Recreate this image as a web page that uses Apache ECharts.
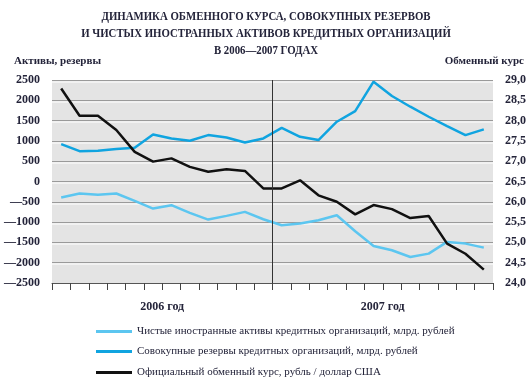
<!DOCTYPE html>
<html>
<head>
<meta charset="utf-8">
<script src="https://cdn.jsdelivr.net/npm/echarts@6/dist/echarts.min.js"></script>
<style>
html,body{margin:0;padding:0;background:#fff;}
#chart{width:530px;height:381px;}
</style>
</head>
<body>
<div id="chart"></div>
<script>
var months = ['01.2006','02.2006','03.2006','04.2006','05.2006','06.2006','07.2006','08.2006','09.2006','10.2006','11.2006','12.2006',
              '01.2007','02.2007','03.2007','04.2007','05.2007','06.2007','07.2007','08.2007','09.2007','10.2007','11.2007','12.2007'];
var years = ['2006 год', '2007 год'];
var netForeignAssets = [-395,-296,-329,-296,-477,-666,-584,-773,-938,-847,-748,-929,
                        -1077,-1036,-954,-831,-1225,-1587,-1694,-1859,-1776,-1488,-1530,-1628];
var totalReserves = [921,748,757,798,830,1160,1061,1003,1143,1085,962,1061,
                     1320,1102,1020,1472,1735,2459,2105,1842,1595,1365,1143,1283];
var exchangeRate = [28.79,28.12,28.12,27.77,27.23,26.99,27.07,26.86,26.74,26.80,26.76,26.33,
                    26.33,26.53,26.16,26.00,25.69,25.92,25.82,25.60,25.65,24.97,24.72,24.33];
var names = ['Чистые иностранные активы кредитных организаций, млрд. рублей',
             'Совокупные резервы кредитных организаций, млрд. рублей',
             'Официальный обменный курс, рубль / доллар США'];
var titleText = 'ДИНАМИКА ОБМЕННОГО КУРСА, СОВОКУПНЫХ РЕЗЕРВОВ\nИ ЧИСТЫХ ИНОСТРАННЫХ АКТИВОВ КРЕДИТНЫХ ОРГАНИЗАЦИЙ\nВ 2006—2007 ГОДАХ';
var yearDivider = 12;

var FONT = 'Liberation Serif';
var TXT = '#24243a';
var chart = echarts.init(document.getElementById('chart'), null, {renderer:'canvas'});
function legendAt(name, top){
  return {data:[name], left:91, top:top, icon:'rect', itemWidth:36, itemHeight:3,
          itemGap:10, selectedMode:false,
          textStyle:{fontFamily:FONT, fontSize:11, color:TXT}};
}
chart.setOption({
  animation:false,
  backgroundColor:'#ffffff',
  graphic:[
    {type:'text', x:266, y:8, scaleX:0.9, silent:true,
     style:{text:titleText, font:'bold 12px "Liberation Serif"', fill:TXT, textAlign:'center', lineHeight:17}},
    {type:'text', left:14, top:56, style:{text:'Активы, резервы', font:'bold 11px "Liberation Serif"', fill:TXT}},
    {type:'text', right:6, top:56, style:{text:'Обменный курс', font:'bold 11px "Liberation Serif"', fill:TXT}}
  ],
  legend:[legendAt(names[0],321), legendAt(names[1],341), legendAt(names[2],362)],
  grid:{left:52, right:37, top:80, bottom:98, show:true, backgroundColor:'#e4e4e4', borderWidth:0},
  xAxis:[
    {type:'category', data:months, boundaryGap:true, position:'bottom',
     axisLine:{show:true, onZero:false, lineStyle:{color:'#555', width:1}},
     axisTick:{show:true, interval:0, length:7, lineStyle:{color:'#444', width:1}},
     axisLabel:{show:false, interval:0}, splitLine:{show:false}},
    {type:'category', data:years, boundaryGap:true, position:'bottom',
     axisLine:{show:false, onZero:false}, axisTick:{show:false}, splitLine:{show:false},
     axisLabel:{margin:18, fontFamily:FONT, fontSize:12, fontWeight:'bold', color:TXT}},
    {type:'value', show:false, min:0, max:24}
  ],
  yAxis:[
    {type:'value', min:-2500, max:2500, interval:500,
     axisLine:{show:false}, axisTick:{show:false},
     axisLabel:{margin:12, fontFamily:FONT, fontSize:12, fontWeight:'bold', color:TXT,
                formatter:function(v){return v<0 ? '—'+Math.abs(v) : String(v);}},
     splitLine:{show:true, lineStyle:{color:'#9a9a9a', width:1, shadowColor:'#ffffff', shadowOffsetY:1.5, shadowBlur:0}}},
    {type:'value', min:24, max:29, interval:0.5,
     axisLine:{show:false}, axisTick:{show:false}, splitLine:{show:false},
     axisLabel:{margin:12, fontFamily:FONT, fontSize:12, fontWeight:'bold', color:TXT,
                formatter:function(v){return v.toFixed(1).replace('.',',');}}}
  ],
  series:[
    {name:names[0], type:'line', data:netForeignAssets, xAxisIndex:0, yAxisIndex:0,
     symbol:'none', lineStyle:{width:2.5, color:'#5cc6f0'}, itemStyle:{color:'#5cc6f0'}},
    {name:names[1], type:'line', data:totalReserves, xAxisIndex:0, yAxisIndex:0,
     symbol:'none', lineStyle:{width:2.5, color:'#10a4e0'}, itemStyle:{color:'#10a4e0'}},
    {name:names[2], type:'line', data:exchangeRate, xAxisIndex:0, yAxisIndex:1,
     symbol:'none', lineStyle:{width:2.5, color:'#111111'}, itemStyle:{color:'#111111'}},
    {type:'scatter', xAxisIndex:2, yAxisIndex:0, data:[], symbolSize:0, silent:true,
     markLine:{silent:true, symbol:'none', label:{show:false},
               lineStyle:{color:'#333', width:1, type:'solid'},
               data:[{xAxis:yearDivider}]}}
  ]
});
</script>
</body>
</html>
